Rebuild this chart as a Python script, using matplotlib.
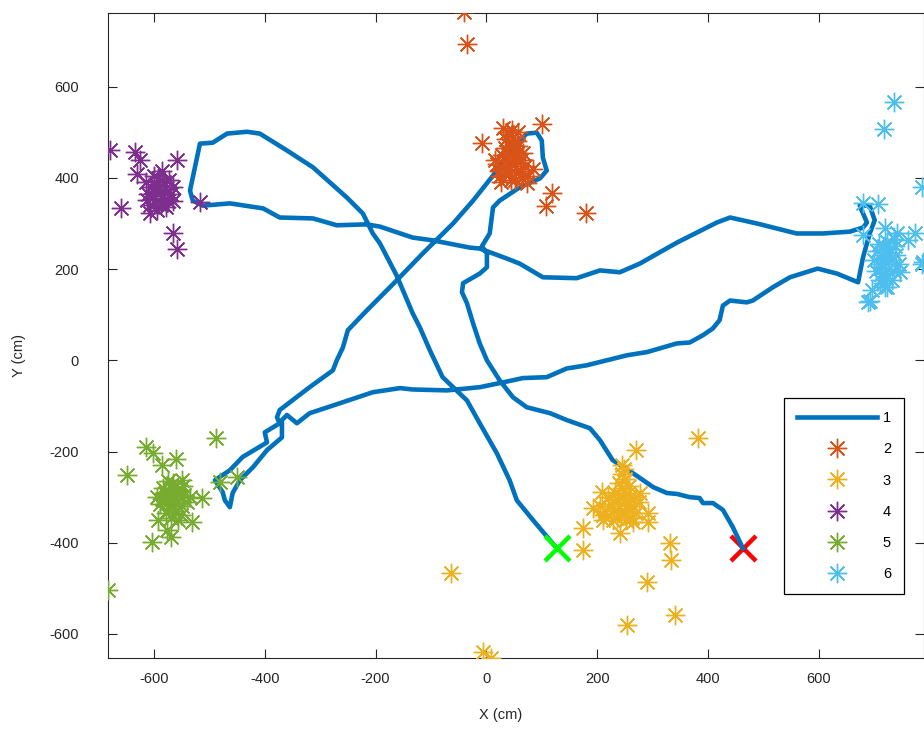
import matplotlib
matplotlib.use('Agg')
import matplotlib.pyplot as plt

plt.rcParams['font.family'] = ['Liberation Sans', 'DejaVu Sans']
plt.rcParams['axes.unicode_minus'] = False

# trajectory (series 1), cm
path_x = [127, 84, 55, 42, 19, -12, -35, -79, -102, -120, -133, -162, -192, -205, -223, -252,
          -313, -360, -409, -432, -468, -494, -517, -526, -535, -530, -512, -463, -403, -373,
          -313, -270, -216, -192, -133, -97, -30, -12, 37, 60, 102, 163, 205, 241, 277, 344,
          416, 440, 488, 560, 607, 656, 680, 687, 674, 692, 701, 692, 680, 671, 633, 598, 548,
          517, 481, 470, 440, 427, 421, 409, 391, 367, 344, 290, 254, 181, 145, 109, 66, 24,
          -12, -71, -133, -156, -205, -264, -319, -342, -360, -369, -369, -396, -421, -445,
          -458, -463, -472, -476, -490, -463, -440, -396, -400, -373, -378, -373, -319, -277,
          -270, -259, -250, -216, -162, -115, -60, -24, 12, 33, 60, 73, 91, 100, 102, 109, 97,
          60, 24, 12, 6, -8, 1, 1, -12, -42, -44, -35, -24, -12, 1, 24, 48, 73, 115, 145, 187,
          205, 228, 264, 301, 326, 344, 367, 385, 391, 409, 427, 445, 463]
path_y = [-412, -350, -307, -263, -204, -138, -88, -37, 22, 72, 103, 186, 256, 278, 322, 357,
          423, 460, 497, 501, 497, 477, 475, 423, 372, 350, 339, 344, 333, 313, 311, 296, 298,
          293, 269, 263, 247, 245, 223, 212, 182, 180, 197, 193, 212, 258, 302, 313, 300, 278,
          278, 282, 291, 302, 339, 339, 307, 278, 226, 171, 190, 201, 182, 160, 131, 127, 131,
          120, 88, 70, 55, 39, 37, 18, 11, -11, -18, -37, -39, -50, -59, -66, -64, -61, -70,
          -94, -116, -138, -120, -131, -169, -197, -234, -263, -291, -322, -307, -289, -263,
          -241, -212, -180, -158, -138, -125, -109, -59, -22, 0, 28, 66, 109, 175, 234, 300,
          350, 405, 442, 482, 497, 499, 482, 444, 416, 399, 379, 350, 335, 278, 250, 234, 204,
          190, 169, 149, 125, 81, 37, 0, -44, -81, -103, -116, -131, -149, -175, -219, -247,
          -278, -291, -293, -300, -302, -313, -313, -328, -366, -412]
start_pt = (127, -412)
end_pt = (463, -412)

# detections (series 2..6), cm
s2_x = [45, 40, 50, 35, 55, 30, 60, 48, 38, 55, 25, 65, 42, 52, 70, 20, 33, 58, 45, 50, 40, 62,
        28, 47, 36, 53, 44, 67, 22, 75, 15, 57,
        -41, -35, -8, 30, 100, 118, 107, 180, 73, 26, 84]
s2_y = [450, 470, 430, 440, 455, 420, 415, 490, 500, 480, 405, 400, 410, 395, 425, 430, 465, 470,
        430, 445, 455, 440, 450, 505, 485, 410, 395, 455, 415, 405, 440, 500,
        764, 694, 477, 510, 519, 366, 339, 322, 388, 390, 420]

s3_x = [245, 240, 250, 235, 255, 230, 260, 245, 250, 240, 255, 225, 265, 215, 270, 205, 275, 235,
        250, 245, 258, 232, 220, 262, 210, 240, 252, 228, 268, 248,
        382, 270, 245, 174, 174, 241, 291, 291, 331, 333, 290, 340, 254, -64, -6, 8, 192, 208,
        277, 264, 210]
s3_y = [-300, -320, -310, -305, -325, -330, -300, -280, -260, -270, -290, -315, -320, -330, -335,
        -320, -310, -345, -340, -250, -275, -290, -300, -345, -340, -335, -350, -350, -300, -238,
        -171, -197, -230, -368, -416, -379, -335, -355, -401, -438, -486, -558, -580, -466, -639,
        -652, -324, -289, -291, -355, -350]

s4_x = [-590, -595, -585, -600, -580, -605, -575, -592, -588, -610, -570, -598, -582, -615, -565,
        -600, -578, -608, -586, -594, -572, -612, -584, -596,
        -680, -634, -625, -559, -660, -566, -559, -517, -631, -566, -607]
s4_y = [370, 385, 355, 360, 375, 380, 350, 400, 340, 365, 365, 345, 390, 390, 380, 405, 335, 340,
        415, 330, 395, 352, 362, 372,
        462, 456, 438, 438, 333, 280, 245, 346, 409, 350, 322]

s5_x = [-565, -570, -560, -575, -555, -580, -550, -568, -562, -585, -545, -572, -558, -590, -540,
        -578, -552, -566, -548, -583, -557, -595, -535, -570, -575, -562,
        -488, -615, -602, -586, -561, -649, -683, -604, -569, -593, -532, -514, -550, -450, -481,
        -577]
s5_y = [-305, -295, -315, -310, -300, -290, -320, -280, -330, -305, -295, -325, -285, -315, -310,
        -335, -340, -270, -275, -280, -350, -300, -300, -345, -265, -300,
        -171, -190, -204, -230, -217, -252, -504, -399, -388, -350, -355, -302, -263, -256, -267,
        -372]

s6_x = [720, 715, 725, 710, 730, 705, 735, 718, 722, 712, 740, 700, 728, 716, 732, 708, 745, 724,
        703, 738, 714, 726, 719, 735, 710,
        736, 718, 786, 680, 707, 786, 689, 719, 742, 773, 761, 788, 692, 680, 696, 723, 746]
s6_y = [215, 230, 200, 210, 220, 240, 195, 250, 180, 190, 230, 220, 245, 170, 175, 255, 210, 260,
        195, 250, 205, 235, 160, 265, 175,
        567, 508, 379, 344, 342, 212, 127, 289, 278, 278, 263, 215, 131, 274, 153, 160, 193]

labels = ['1', '2', '3', '4', '5', '6']
colors = ['#0072BD', '#D95319', '#EDB120', '#7E2F8E', '#77AC30', '#4DBEEE']

fig = plt.figure(figsize=(9.24, 7.31), dpi=100)
ax = fig.add_axes([108 / 924, 1 - 657.7 / 731, 816 / 924, 645 / 731])

star = (8, 2, 0)
handles = []
h, = ax.plot(path_x, path_y, color=colors[0], lw=3.3, solid_joinstyle='round', zorder=2)
handles.append(h)
for (sx, sy), c in zip([(s2_x, s2_y), (s3_x, s3_y), (s4_x, s4_y), (s5_x, s5_y), (s6_x, s6_y)],
                       colors[1:]):
    h, = ax.plot(sx, sy, linestyle='none', marker=star, ms=14, mew=1.0,
                 color=c, zorder=3)
    handles.append(h)

ax.plot(*start_pt, marker='x', color='#00FF00', ms=18, mew=3.2, zorder=4)
ax.plot(*end_pt, marker='x', color='#FF0000', ms=18, mew=3.2, zorder=1)

ax.set_xlim(-683, 790)
ax.set_ylim(-652, 762)
ax.set_xticks([-600, -400, -200, 0, 200, 400, 600])
ax.set_yticks([-600, -400, -200, 0, 200, 400, 600])

dark = '#262626'
for s in ax.spines.values():
    s.set_color(dark)
    s.set_linewidth(0.8)
ax.tick_params(direction='in', length=6.5, width=0.8, top=True, right=True,
               color=dark, labelcolor=dark, labelsize=10.5)
ax.tick_params(axis='y', pad=21)
ax.tick_params(axis='x', pad=10)

ax.set_xlabel('X (cm)', fontsize=10.5, color=dark)
ax.set_ylabel('Y (cm)', fontsize=10.5, color=dark)
ax.xaxis.set_label_coords(0.4816, -0.078)
ax.yaxis.set_label_coords(-0.10, 0.469)

leg = ax.legend(handles, labels, loc='upper left', bbox_to_anchor=(0.828, 0.4026),
                borderaxespad=0, fontsize=10.5, handlelength=5.5, handletextpad=0.4,
                borderpad=0.9, labelspacing=1.18, fancybox=False, framealpha=1,
                edgecolor='black')
leg.get_frame().set_linewidth(0.9)

fig.savefig('out.png', dpi=100)
